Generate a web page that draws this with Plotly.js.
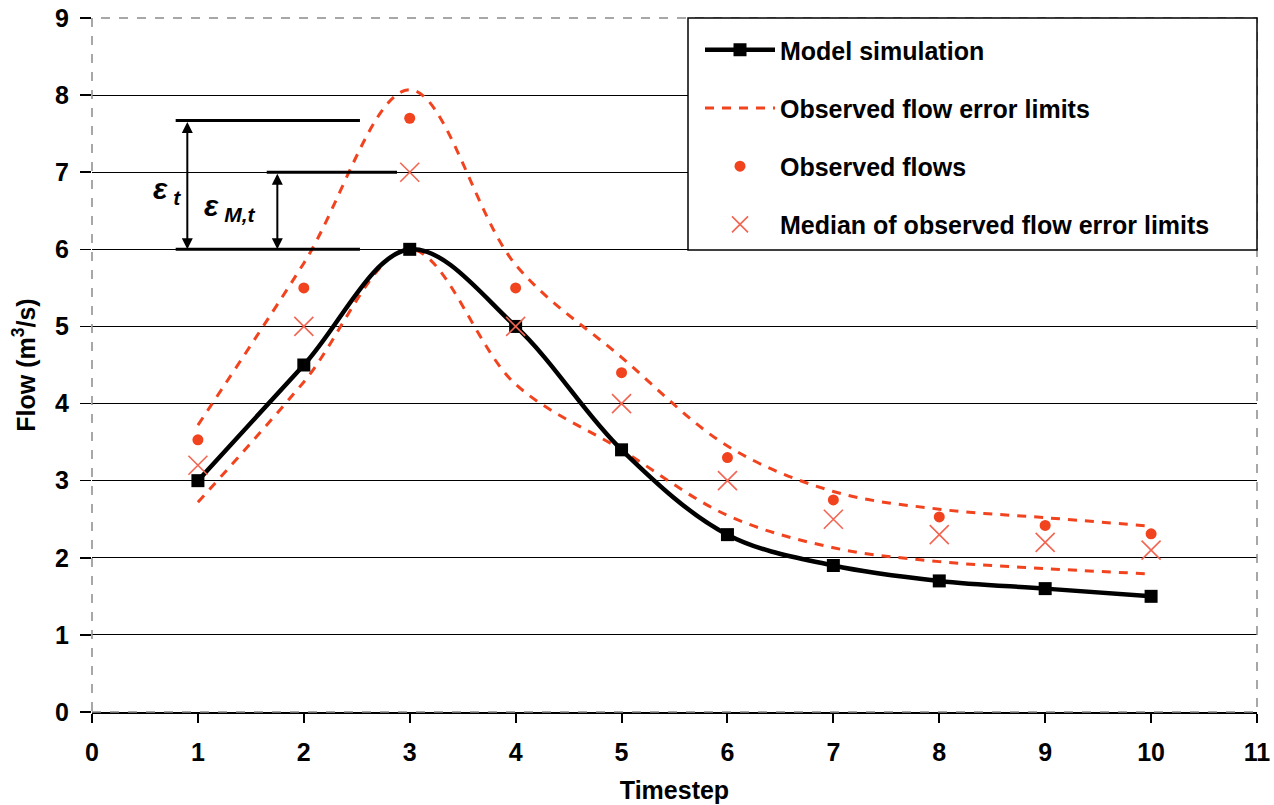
<!DOCTYPE html>
<html><head><meta charset="utf-8">
<script src="https://cdn.plot.ly/plotly-3.0.1.min.js"></script>
<style>body{margin:0;background:#fff}#chart{width:1274px;height:805px}</style>
</head><body><div id="chart"></div>
<script>
const timesteps = [1, 2, 3, 4, 5, 6, 7, 8, 9, 10];
const modelSim = [3, 4.5, 6, 5, 3.4, 2.3, 1.9, 1.7, 1.6, 1.5];
const upperLimit = [3.72, 5.82, 8.07, 5.8, 4.6, 3.45, 2.86, 2.63, 2.52, 2.41];
const lowerLimit = [2.72, 4.28, 6.0, 4.25, 3.4, 2.55, 2.13, 1.95, 1.86, 1.79];
const observed = [3.53, 5.5, 7.7, 5.5, 4.4, 3.3, 2.75, 2.53, 2.42, 2.31];
const medianLimits = [3.2, 5, 7, 5, 4, 3, 2.5, 2.3, 2.2, 2.1];
const xTicks = [0,1,2,3,4,5,6,7,8,9,10,11];
const yTicks = [0,1,2,3,4,5,6,7,8,9];

const FONT = 'Liberation Sans, Arial, sans-serif';
const RED = '#f2431f';
const PINK = '#f26552';

const traces = [
  {x: timesteps, y: upperLimit, mode: 'lines', name: 'Observed flow error limits',
   line: {color: RED, width: 3, dash: '9px,8px', shape: 'spline'}, legendgroup: 'b', legendrank: 2},
  {x: timesteps, y: lowerLimit, mode: 'lines', name: 'Observed flow error limits', showlegend: false,
   line: {color: RED, width: 3, dash: '9px,8px', shape: 'spline'}, legendgroup: 'b', legendrank: 2},
  {x: timesteps, y: modelSim, mode: 'lines+markers', name: 'Model simulation',
   line: {color: '#000', width: 4.5, shape: 'spline'}, marker: {symbol: 'square', size: 13, color: '#000'},
   legendgroup: 'a', legendrank: 1},
  {x: timesteps, y: observed, mode: 'markers', name: 'Observed flows',
   marker: {symbol: 'circle', size: 11, color: RED}, legendgroup: 'c', legendrank: 3},
  {x: timesteps, y: medianLimits, mode: 'markers', name: 'Median of observed flow error limits',
   marker: {symbol: 'x-thin-open', size: 19, color: PINK, line: {color: PINK, width: 1.6}},
   legendgroup: 'd', legendrank: 4}
];

// plot area: x 92..1257 px, y 18..712 px
const PW = 1165, PH = 694;
const px2x = p => (p - 92) / PW;
const py2y = p => 1 - (p - 18) / PH;

const annLineY = [7.67, 7.0, 6.0];
const annLineX0 = [0.79, 1.65, 0.79];
const annLineX1 = [2.53, 2.88, 2.53];
const shapes = [
  {type: 'rect', xref: 'paper', yref: 'paper', x0: 0, x1: 1, y0: 0, y1: 1,
   line: {color: '#8a8a8a', width: 1.5, dash: 'dash'}, layer: 'above'},
  {type: 'rect', xref: 'paper', yref: 'paper', x0: px2x(688), x1: px2x(1257), y0: py2y(250), y1: py2y(18),
   line: {color: '#000', width: 1.5}, fillcolor: '#fff', layer: 'above'}
];
annLineY.forEach((y, i) => shapes.push({type: 'line', xref: 'x', yref: 'y', x0: annLineX0[i], x1: annLineX1[i], y0: y, y1: y,
  line: {color: '#000', width: 3}}));

const arrow = (x, y0, y1) => ({x: x, y: y0, ax: x, ay: y1, xref: 'x', yref: 'y', axref: 'x', ayref: 'y',
  text: '', showarrow: true, arrowside: 'end+start', arrowhead: 2, startarrowhead: 2,
  arrowsize: 1.1, startarrowsize: 1.1, arrowwidth: 2, arrowcolor: '#000', standoff: 0, startstandoff: 0});

const annotations = [
  arrow(0.9, 6.0, 7.67),
  arrow(1.75, 6.0, 7.0),
  {x: 0.56, y: 6.76, xref: 'x', yref: 'y', xanchor: 'left', yanchor: 'middle', showarrow: false,
   text: '<b><i>ε</i></b><sub><b><i> t</i></b></sub>', font: {family: FONT, size: 30, color: '#000'}},
  {x: 1.04, y: 6.54, xref: 'x', yref: 'y', xanchor: 'left', yanchor: 'middle', showarrow: false,
   text: '<b><i>ε</i></b><sub><b><i> M,t</i></b></sub>', font: {family: FONT, size: 30, color: '#000'}}
];

const layout = {
  width: 1274, height: 805,
  margin: {l: 92, r: 17, t: 18, b: 93},
  paper_bgcolor: '#fff', plot_bgcolor: '#fff',
  font: {family: FONT, size: 24, color: '#000', weight: 'bold'},
  showlegend: true,
  legend: {x: px2x(700), y: py2y(27), xanchor: 'left', yanchor: 'top', bgcolor: 'rgba(0,0,0,0)', borderwidth: 0,
    font: {family: FONT, size: 25, color: '#000', weight: 'bold'}, traceorder: 'grouped', tracegroupgap: 22.7,
    itemwidth: 70},
  xaxis: {range: [0, 11], tickvals: xTicks, ticktext: xTicks.map(String), showgrid: false, zeroline: false,
    showline: true, linecolor: '#000', linewidth: 2, ticks: 'outside', ticklen: 9, tickwidth: 2, tickcolor: '#000',
    ticklabelstandoff: 8,
    tickfont: {family: FONT, size: 25, weight: 'bold'},
    title: {text: 'Timestep', font: {family: FONT, size: 25, weight: 'bold'}, standoff: 16}},
  yaxis: {range: [0, 9], tickvals: yTicks, ticktext: yTicks.map(String), showgrid: true, gridcolor: '#000', gridwidth: 1,
    zeroline: false, showline: false, ticks: 'outside', ticklen: 11, tickwidth: 1.5, tickcolor: '#000',
    ticklabelstandoff: 6,
    tickfont: {family: FONT, size: 25, weight: 'bold'},
    title: {text: 'Flow (m<sup>3</sup>/s)', font: {family: FONT, size: 25, weight: 'bold'}, standoff: 12}},
  shapes: shapes,
  annotations: annotations
};

Plotly.newPlot('chart', traces, layout, {displayModeBar: false, staticPlot: true});
</script></body></html>
